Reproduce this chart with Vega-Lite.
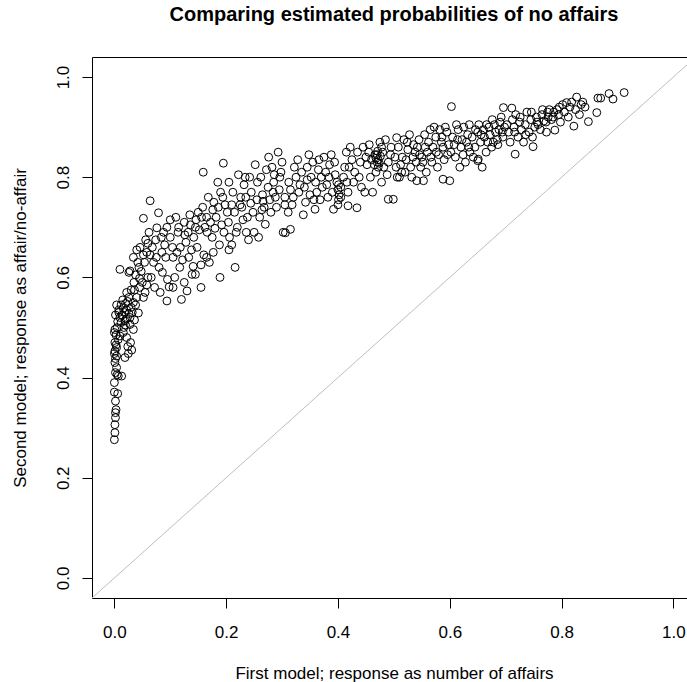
{
  "$schema": "https://vega.github.io/schema/vega-lite/v6.json",
  "autosize": {"type": "none"},
  "padding": {"left": 92, "top": 57, "right": 0, "bottom": 84},
  "width": 595,
  "height": 541,
  "background": "white",
  "config": {"view": {"stroke": null}},
  "title": {"text": "Comparing estimated probabilities of no affairs", "font": "Liberation Sans", "fontSize": 20, "fontWeight": "bold", "color": "black", "anchor": "middle", "baseline": "alphabetic", "offset": 16, "dx": 4.5},
  "datasets": {
    "diag": [{"m1": -0.04, "m2": -0.04}, {"m1": 1.04, "m2": 1.04}],
    "pts": [
      {"m1":0.000,"m2":0.276},{"m1":0.001,"m2":0.290},{"m1":0.001,"m2":0.306},{"m1":0.002,"m2":0.320},{"m1":0.002,"m2":0.330},{"m1":0.003,"m2":0.336},{"m1":0.002,"m2":0.353},{"m1":0.006,"m2":0.368},{"m1":0.000,"m2":0.371},{"m1":0.000,"m2":0.390},{"m1":0.007,"m2":0.403},{"m1":0.005,"m2":0.406},{"m1":0.004,"m2":0.420},{"m1":0.001,"m2":0.430},{"m1":0.004,"m2":0.443},{"m1":0.001,"m2":0.453},{"m1":0.004,"m2":0.460},{"m1":0.001,"m2":0.470},{"m1":0.007,"m2":0.476},{"m1":0.010,"m2":0.483},{"m1":0.001,"m2":0.496},{"m1":0.005,"m2":0.500},{"m1":0.002,"m2":0.438},{"m1":0.003,"m2":0.465},{"m1":0.000,"m2":0.490},{"m1":0.006,"m2":0.512},{"m1":0.002,"m2":0.525},{"m1":0.008,"m2":0.535},{"m1":0.004,"m2":0.545},{"m1":0.003,"m2":0.485},{"m1":0.002,"m2":0.410},{"m1":0.000,"m2":0.448},
      {"m1":0.013,"m2":0.403},{"m1":0.019,"m2":0.440},{"m1":0.025,"m2":0.448},{"m1":0.016,"m2":0.490},{"m1":0.022,"m2":0.480},{"m1":0.034,"m2":0.496},{"m1":0.028,"m2":0.506},{"m1":0.019,"m2":0.513},{"m1":0.010,"m2":0.520},{"m1":0.014,"m2":0.525},{"m1":0.018,"m2":0.530},{"m1":0.022,"m2":0.535},{"m1":0.026,"m2":0.528},{"m1":0.030,"m2":0.540},{"m1":0.012,"m2":0.545},{"m1":0.016,"m2":0.538},{"m1":0.020,"m2":0.548},{"m1":0.024,"m2":0.552},{"m1":0.028,"m2":0.520},{"m1":0.032,"m2":0.530},{"m1":0.036,"m2":0.515},{"m1":0.008,"m2":0.530},{"m1":0.012,"m2":0.510},{"m1":0.020,"m2":0.505},{"m1":0.043,"m2":0.529},{"m1":0.015,"m2":0.555},{"m1":0.026,"m2":0.560},{"m1":0.034,"m2":0.550},{"m1":0.038,"m2":0.545},{"m1":0.021,"m2":0.517},{"m1":0.017,"m2":0.500},{"m1":0.029,"m2":0.470},{"m1":0.024,"m2":0.462},{"m1":0.031,"m2":0.455},
      {"m1":0.022,"m2":0.570},{"m1":0.030,"m2":0.575},{"m1":0.040,"m2":0.560},{"m1":0.045,"m2":0.580},{"m1":0.055,"m2":0.570},{"m1":0.050,"m2":0.590},{"m1":0.035,"m2":0.590},{"m1":0.045,"m2":0.598},{"m1":0.058,"m2":0.585},{"m1":0.060,"m2":0.600},{"m1":0.010,"m2":0.616},{"m1":0.026,"m2":0.610},{"m1":0.028,"m2":0.613},{"m1":0.038,"m2":0.605},{"m1":0.048,"m2":0.612},{"m1":0.052,"m2":0.560},
      {"m1":0.034,"m2":0.640},{"m1":0.040,"m2":0.655},{"m1":0.046,"m2":0.660},{"m1":0.052,"m2":0.645},{"m1":0.060,"m2":0.668},{"m1":0.042,"m2":0.630},{"m1":0.052,"m2":0.718},{"m1":0.064,"m2":0.753},{"m1":0.079,"m2":0.729},{"m1":0.076,"m2":0.699},{"m1":0.094,"m2":0.700},{"m1":0.100,"m2":0.715},{"m1":0.110,"m2":0.720},{"m1":0.068,"m2":0.660},{"m1":0.075,"m2":0.640},{"m1":0.080,"m2":0.620},{"m1":0.070,"m2":0.630},{"m1":0.085,"m2":0.650},{"m1":0.090,"m2":0.665},{"m1":0.062,"m2":0.690},{"m1":0.056,"m2":0.675},{"m1":0.066,"m2":0.600},{"m1":0.072,"m2":0.580},{"m1":0.094,"m2":0.553},{"m1":0.098,"m2":0.581},{"m1":0.095,"m2":0.596},{"m1":0.086,"m2":0.610},{"m1":0.105,"m2":0.640},{"m1":0.100,"m2":0.680},{"m1":0.088,"m2":0.690},{"m1":0.082,"m2":0.570},
      {"m1":0.044,"m2":0.620},{"m1":0.054,"m2":0.630},{"m1":0.064,"m2":0.645},{"m1":0.074,"m2":0.675},{"m1":0.084,"m2":0.680},{"m1":0.092,"m2":0.640},{"m1":0.058,"m2":0.650},{"m1":0.036,"m2":0.575},
      {"m1":0.120,"m2":0.556},{"m1":0.130,"m2":0.573},{"m1":0.141,"m2":0.622},{"m1":0.145,"m2":0.606},{"m1":0.139,"m2":0.606},{"m1":0.155,"m2":0.625},{"m1":0.165,"m2":0.640},{"m1":0.177,"m2":0.650},{"m1":0.170,"m2":0.630},{"m1":0.160,"m2":0.645},{"m1":0.189,"m2":0.600},{"m1":0.115,"m2":0.700},{"m1":0.125,"m2":0.710},{"m1":0.135,"m2":0.725},{"m1":0.150,"m2":0.730},{"m1":0.118,"m2":0.660},{"m1":0.128,"m2":0.670},{"m1":0.112,"m2":0.650},{"m1":0.122,"m2":0.635},{"m1":0.132,"m2":0.690},{"m1":0.142,"m2":0.680},{"m1":0.152,"m2":0.695},{"m1":0.162,"m2":0.700},{"m1":0.172,"m2":0.710},{"m1":0.182,"m2":0.720},{"m1":0.192,"m2":0.705},{"m1":0.158,"m2":0.740},{"m1":0.168,"m2":0.760},{"m1":0.178,"m2":0.750},{"m1":0.159,"m2":0.810},{"m1":0.195,"m2":0.828},{"m1":0.185,"m2":0.790},{"m1":0.190,"m2":0.770},{"m1":0.198,"m2":0.745},{"m1":0.175,"m2":0.680},{"m1":0.188,"m2":0.665},{"m1":0.148,"m2":0.660},{"m1":0.138,"m2":0.655},{"m1":0.108,"m2":0.600},{"m1":0.125,"m2":0.590},{"m1":0.155,"m2":0.580},{"m1":0.105,"m2":0.580},{"m1":0.165,"m2":0.720},{"m1":0.145,"m2":0.700},{"m1":0.180,"m2":0.698},{"m1":0.196,"m2":0.690},
      {"m1":0.114,"m2":0.690},{"m1":0.126,"m2":0.685},{"m1":0.136,"m2":0.705},{"m1":0.146,"m2":0.715},{"m1":0.156,"m2":0.720},{"m1":0.166,"m2":0.690},{"m1":0.176,"m2":0.735},{"m1":0.186,"m2":0.740},{"m1":0.194,"m2":0.760},{"m1":0.104,"m2":0.660},{"m1":0.117,"m2":0.620},{"m1":0.133,"m2":0.640},
      {"m1":0.216,"m2":0.620},{"m1":0.205,"m2":0.655},{"m1":0.210,"m2":0.665},{"m1":0.240,"m2":0.675},{"m1":0.250,"m2":0.690},{"m1":0.258,"m2":0.680},{"m1":0.270,"m2":0.706},{"m1":0.302,"m2":0.690},{"m1":0.290,"m2":0.740},{"m1":0.305,"m2":0.745},{"m1":0.293,"m2":0.850},{"m1":0.220,"m2":0.700},{"m1":0.230,"m2":0.715},{"m1":0.215,"m2":0.730},{"m1":0.225,"m2":0.745},{"m1":0.235,"m2":0.760},{"m1":0.245,"m2":0.770},{"m1":0.255,"m2":0.755},{"m1":0.265,"m2":0.765},{"m1":0.275,"m2":0.780},{"m1":0.285,"m2":0.790},{"m1":0.295,"m2":0.775},{"m1":0.262,"m2":0.800},{"m1":0.272,"m2":0.815},{"m1":0.282,"m2":0.820},{"m1":0.242,"m2":0.800},{"m1":0.232,"m2":0.785},{"m1":0.212,"m2":0.770},{"m1":0.205,"m2":0.790},{"m1":0.228,"m2":0.740},{"m1":0.248,"m2":0.730},{"m1":0.268,"m2":0.740},{"m1":0.278,"m2":0.755},{"m1":0.288,"m2":0.760},{"m1":0.298,"m2":0.810},{"m1":0.252,"m2":0.825},{"m1":0.222,"m2":0.805},{"m1":0.238,"m2":0.720},{"m1":0.260,"m2":0.720},{"m1":0.280,"m2":0.730},{"m1":0.210,"m2":0.745},{"m1":0.244,"m2":0.748},{"m1":0.266,"m2":0.752},{"m1":0.284,"m2":0.770},{"m1":0.296,"m2":0.800},{"m1":0.300,"m2":0.830},{"m1":0.276,"m2":0.840},{"m1":0.204,"m2":0.710},{"m1":0.218,"m2":0.690},
      {"m1":0.202,"m2":0.730},{"m1":0.226,"m2":0.760},{"m1":0.234,"m2":0.800},{"m1":0.256,"m2":0.790},{"m1":0.264,"m2":0.735},{"m1":0.286,"m2":0.805},{"m1":0.206,"m2":0.680},{"m1":0.236,"m2":0.690},
      {"m1":0.315,"m2":0.696},{"m1":0.306,"m2":0.689},{"m1":0.311,"m2":0.730},{"m1":0.359,"m2":0.736},{"m1":0.392,"m2":0.736},{"m1":0.320,"m2":0.760},{"m1":0.330,"m2":0.770},{"m1":0.340,"m2":0.780},{"m1":0.350,"m2":0.765},{"m1":0.360,"m2":0.790},{"m1":0.370,"m2":0.800},{"m1":0.380,"m2":0.785},{"m1":0.390,"m2":0.770},{"m1":0.325,"m2":0.800},{"m1":0.335,"m2":0.810},{"m1":0.345,"m2":0.820},{"m1":0.355,"m2":0.830},{"m1":0.365,"m2":0.815},{"m1":0.375,"m2":0.840},{"m1":0.385,"m2":0.825},{"m1":0.395,"m2":0.805},{"m1":0.318,"m2":0.745},{"m1":0.342,"m2":0.750},{"m1":0.368,"m2":0.755},{"m1":0.382,"m2":0.760},{"m1":0.398,"m2":0.790},{"m1":0.312,"m2":0.790},{"m1":0.328,"m2":0.835},{"m1":0.348,"m2":0.845},{"m1":0.372,"m2":0.780},{"m1":0.388,"m2":0.845},{"m1":0.338,"m2":0.725},{"m1":0.362,"m2":0.770},{"m1":0.352,"m2":0.800},{"m1":0.322,"m2":0.820},{"m1":0.378,"m2":0.810},
      {"m1":0.305,"m2":0.760},{"m1":0.315,"m2":0.775},{"m1":0.332,"m2":0.785},{"m1":0.345,"m2":0.795},{"m1":0.357,"m2":0.755},{"m1":0.366,"m2":0.835},{"m1":0.384,"m2":0.800},{"m1":0.394,"m2":0.830},
      {"m1":0.400,"m2":0.745},{"m1":0.401,"m2":0.755},{"m1":0.402,"m2":0.765},{"m1":0.400,"m2":0.775},{"m1":0.401,"m2":0.785},
      {"m1":0.434,"m2":0.739},{"m1":0.418,"m2":0.743},{"m1":0.416,"m2":0.790},{"m1":0.418,"m2":0.770},{"m1":0.490,"m2":0.756},{"m1":0.499,"m2":0.756},{"m1":0.405,"m2":0.780},{"m1":0.410,"m2":0.800},{"m1":0.420,"m2":0.820},{"m1":0.430,"m2":0.810},{"m1":0.440,"m2":0.830},{"m1":0.450,"m2":0.840},{"m1":0.460,"m2":0.835},{"m1":0.470,"m2":0.845},{"m1":0.480,"m2":0.850},{"m1":0.490,"m2":0.830},{"m1":0.465,"m2":0.825},{"m1":0.455,"m2":0.850},{"m1":0.445,"m2":0.860},{"m1":0.435,"m2":0.850},{"m1":0.425,"m2":0.835},{"m1":0.415,"m2":0.850},{"m1":0.475,"m2":0.870},{"m1":0.485,"m2":0.875},{"m1":0.495,"m2":0.860},{"m1":0.405,"m2":0.760},{"m1":0.428,"m2":0.790},{"m1":0.442,"m2":0.780},{"m1":0.458,"m2":0.800},{"m1":0.468,"m2":0.810},{"m1":0.478,"m2":0.790},{"m1":0.488,"m2":0.805},{"m1":0.448,"m2":0.770},{"m1":0.438,"m2":0.800},{"m1":0.462,"m2":0.770},{"m1":0.472,"m2":0.835},{"m1":0.452,"m2":0.825},{"m1":0.466,"m2":0.845},{"m1":0.468,"m2":0.838},{"m1":0.470,"m2":0.830},{"m1":0.412,"m2":0.820},{"m1":0.422,"m2":0.860},{"m1":0.482,"m2":0.820},{"m1":0.494,"m2":0.845},{"m1":0.456,"m2":0.865},
      {"m1":0.472,"m2":0.820},{"m1":0.474,"m2":0.828},{"m1":0.476,"m2":0.842},{"m1":0.471,"m2":0.852},{"m1":0.478,"m2":0.860},
      {"m1":0.553,"m2":0.793},{"m1":0.541,"m2":0.793},{"m1":0.588,"m2":0.796},{"m1":0.600,"m2":0.793},{"m1":0.505,"m2":0.879},{"m1":0.603,"m2":0.941},{"m1":0.510,"m2":0.800},{"m1":0.520,"m2":0.810},{"m1":0.530,"m2":0.820},{"m1":0.540,"m2":0.830},{"m1":0.550,"m2":0.840},{"m1":0.560,"m2":0.850},{"m1":0.570,"m2":0.860},{"m1":0.580,"m2":0.845},{"m1":0.590,"m2":0.835},{"m1":0.515,"m2":0.840},{"m1":0.525,"m2":0.855},{"m1":0.535,"m2":0.865},{"m1":0.545,"m2":0.875},{"m1":0.555,"m2":0.885},{"m1":0.565,"m2":0.895},{"m1":0.575,"m2":0.880},{"m1":0.585,"m2":0.870},{"m1":0.595,"m2":0.890},{"m1":0.508,"m2":0.860},{"m1":0.518,"m2":0.875},{"m1":0.528,"m2":0.885},{"m1":0.538,"m2":0.850},{"m1":0.548,"m2":0.820},{"m1":0.558,"m2":0.810},{"m1":0.568,"m2":0.830},{"m1":0.578,"m2":0.820},{"m1":0.588,"m2":0.860},{"m1":0.598,"m2":0.865},{"m1":0.512,"m2":0.825},{"m1":0.532,"m2":0.800},{"m1":0.562,"m2":0.870},{"m1":0.572,"m2":0.900},{"m1":0.582,"m2":0.895},{"m1":0.592,"m2":0.900},{"m1":0.502,"m2":0.840},{"m1":0.522,"m2":0.835},{"m1":0.542,"m2":0.860},{"m1":0.552,"m2":0.830},{"m1":0.566,"m2":0.840},
      {"m1":0.504,"m2":0.820},{"m1":0.514,"m2":0.810},{"m1":0.524,"m2":0.870},{"m1":0.534,"m2":0.840},{"m1":0.546,"m2":0.845},{"m1":0.556,"m2":0.860},{"m1":0.576,"m2":0.850},{"m1":0.586,"m2":0.880},{"m1":0.596,"m2":0.845},{"m1":0.506,"m2":0.800},
      {"m1":0.618,"m2":0.820},{"m1":0.650,"m2":0.833},{"m1":0.651,"m2":0.836},{"m1":0.636,"m2":0.850},{"m1":0.696,"m2":0.939},{"m1":0.610,"m2":0.840},{"m1":0.620,"m2":0.860},{"m1":0.630,"m2":0.870},{"m1":0.640,"m2":0.880},{"m1":0.650,"m2":0.890},{"m1":0.660,"m2":0.895},{"m1":0.670,"m2":0.900},{"m1":0.680,"m2":0.905},{"m1":0.690,"m2":0.910},{"m1":0.605,"m2":0.880},{"m1":0.615,"m2":0.895},{"m1":0.625,"m2":0.900},{"m1":0.635,"m2":0.905},{"m1":0.645,"m2":0.860},{"m1":0.655,"m2":0.870},{"m1":0.665,"m2":0.850},{"m1":0.675,"m2":0.860},{"m1":0.685,"m2":0.875},{"m1":0.695,"m2":0.880},{"m1":0.608,"m2":0.865},{"m1":0.628,"m2":0.830},{"m1":0.642,"m2":0.840},{"m1":0.662,"m2":0.880},{"m1":0.672,"m2":0.885},{"m1":0.682,"m2":0.890},{"m1":0.692,"m2":0.920},{"m1":0.612,"m2":0.905},{"m1":0.632,"m2":0.885},{"m1":0.652,"m2":0.905},{"m1":0.668,"m2":0.870},{"m1":0.658,"m2":0.820},{"m1":0.678,"m2":0.870},{"m1":0.688,"m2":0.895},{"m1":0.698,"m2":0.900},{"m1":0.622,"m2":0.875},
      {"m1":0.602,"m2":0.850},{"m1":0.614,"m2":0.875},{"m1":0.624,"m2":0.845},{"m1":0.634,"m2":0.860},{"m1":0.646,"m2":0.895},{"m1":0.656,"m2":0.885},{"m1":0.666,"m2":0.905},{"m1":0.676,"m2":0.915},{"m1":0.686,"m2":0.865},{"m1":0.694,"m2":0.890},
      {"m1":0.711,"m2":0.938},{"m1":0.717,"m2":0.846},{"m1":0.749,"m2":0.861},{"m1":0.773,"m2":0.890},{"m1":0.788,"m2":0.894},{"m1":0.809,"m2":0.949},{"m1":0.705,"m2":0.890},{"m1":0.715,"m2":0.900},{"m1":0.725,"m2":0.910},{"m1":0.735,"m2":0.905},{"m1":0.745,"m2":0.915},{"m1":0.755,"m2":0.920},{"m1":0.765,"m2":0.925},{"m1":0.775,"m2":0.930},{"m1":0.785,"m2":0.920},{"m1":0.795,"m2":0.925},{"m1":0.708,"m2":0.870},{"m1":0.722,"m2":0.880},{"m1":0.732,"m2":0.870},{"m1":0.742,"m2":0.890},{"m1":0.752,"m2":0.900},{"m1":0.762,"m2":0.895},{"m1":0.772,"m2":0.910},{"m1":0.782,"m2":0.915},{"m1":0.792,"m2":0.935},{"m1":0.718,"m2":0.925},{"m1":0.738,"m2":0.930},{"m1":0.758,"m2":0.905},{"m1":0.778,"m2":0.935},{"m1":0.798,"m2":0.910},{"m1":0.728,"m2":0.895},{"m1":0.748,"m2":0.880},{"m1":0.768,"m2":0.912},{"m1":0.712,"m2":0.915},
      {"m1":0.702,"m2":0.905},{"m1":0.716,"m2":0.890},{"m1":0.726,"m2":0.920},{"m1":0.736,"m2":0.885},{"m1":0.746,"m2":0.930},{"m1":0.756,"m2":0.910},{"m1":0.766,"m2":0.935},{"m1":0.776,"m2":0.920},{"m1":0.786,"m2":0.930},{"m1":0.796,"m2":0.940},
      {"m1":0.827,"m2":0.960},{"m1":0.822,"m2":0.902},{"m1":0.848,"m2":0.911},{"m1":0.863,"m2":0.929},{"m1":0.865,"m2":0.958},{"m1":0.885,"m2":0.967},{"m1":0.892,"m2":0.956},{"m1":0.912,"m2":0.969},{"m1":0.805,"m2":0.930},{"m1":0.815,"m2":0.940},{"m1":0.825,"m2":0.935},{"m1":0.835,"m2":0.945},{"m1":0.812,"m2":0.920},{"m1":0.818,"m2":0.950},{"m1":0.832,"m2":0.925},{"m1":0.842,"m2":0.940},{"m1":0.870,"m2":0.958},{"m1":0.802,"m2":0.945},{"m1":0.838,"m2":0.950}
    ]
  },
  "layer": [
    {
      "data": {"name": "pts"},
      "mark": {"type": "point", "shape": "circle", "filled": false, "stroke": "black", "strokeWidth": 1, "size": 62, "opacity": 1},
      "encoding": {
        "x": {"field": "m1", "type": "quantitative", "scale": {"domain": [-0.04, 1.0244], "nice": false, "zero": false},
          "axis": {"orient": "bottom", "values": [0, 0.2, 0.4, 0.6, 0.8, 1.0], "format": ".1f", "grid": false, "domainColor": "black", "domainWidth": 1, "tickColor": "black", "tickSize": 10, "tickWidth": 1, "labelFont": "Liberation Sans", "labelFontSize": 17, "labelColor": "black", "labelBaseline": "alphabetic", "labelPadding": 29, "labelFlush": false, "labelOverlap": false,
            "title": "First model; response as number of affairs", "titleFont": "Liberation Sans", "titleFontSize": 17, "titleFontWeight": "normal", "titleColor": "black", "titleBaseline": "alphabetic", "titleAlign": "center", "titleX": 302, "titleY": 80}},
        "y": {"field": "m2", "type": "quantitative", "scale": {"domain": [-0.04, 1.04], "nice": false, "zero": false},
          "axis": {"orient": "left", "values": [0, 0.2, 0.4, 0.6, 0.8, 1.0], "format": ".1f", "grid": false, "domainColor": "black", "domainWidth": 1, "tickColor": "black", "tickSize": 10, "tickWidth": 1, "labelFont": "Liberation Sans", "labelFontSize": 17, "labelColor": "black", "labelAngle": -90, "labelAlign": "center", "labelBaseline": "alphabetic", "labelPadding": 14, "labelFlush": false, "labelOverlap": false,
            "title": "Second model; response as affair/no-affair", "titleFont": "Liberation Sans", "titleFontSize": 17, "titleFontWeight": "normal", "titleColor": "black", "titleAngle": -90, "titleBaseline": "alphabetic", "titleAlign": "center", "titleX": -67, "titleY": 270.5}}
      }
    },
    {
      "data": {"name": "diag"},
      "mark": {"type": "line", "color": "#BEBEBE", "strokeWidth": 1, "clip": true},
      "encoding": {
        "x": {"field": "m1", "type": "quantitative", "axis": {"orient": "top", "labels": false, "ticks": false, "grid": false, "title": null, "domain": true, "domainColor": "black", "domainWidth": 1}},
        "y": {"field": "m2", "type": "quantitative"}
      }
    }
  ],
  "resolve": {"axis": {"x": "independent"}}
}
